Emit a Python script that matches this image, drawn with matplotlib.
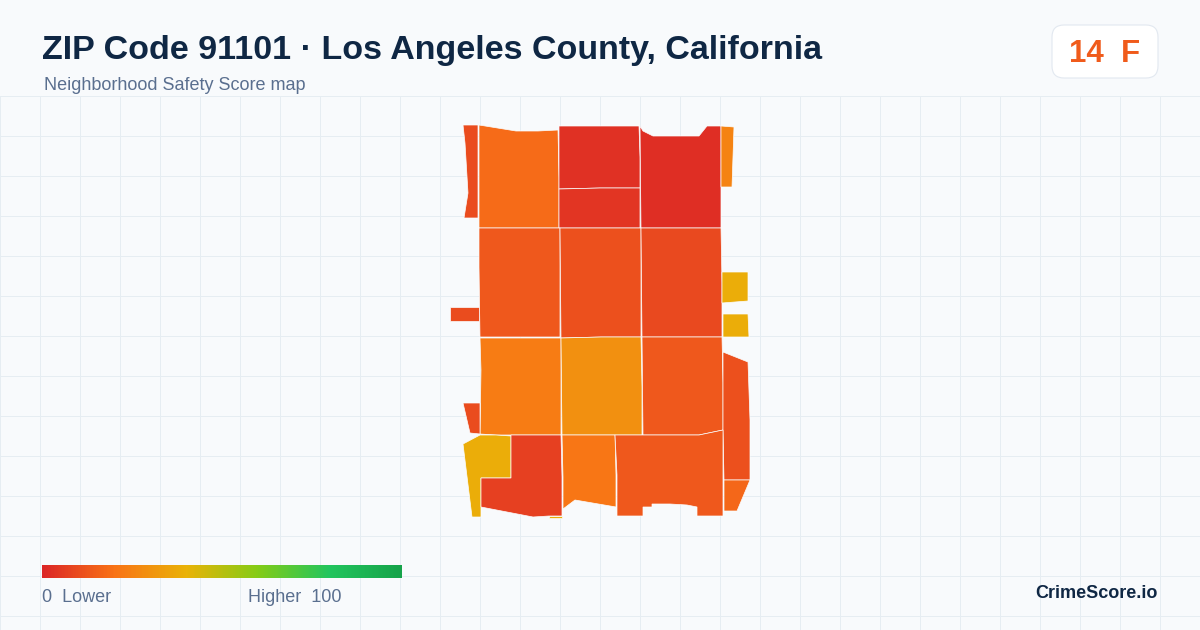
import numpy as np
import matplotlib
matplotlib.use('Agg')
import matplotlib.pyplot as plt
from matplotlib.colors import LinearSegmentedColormap
from matplotlib.patches import FancyBboxPatch, Polygon

plt.rcParams['font.family'] = ['Liberation Sans', 'DejaVu Sans']

# score scale
scale_stops = [0, 0.2, 0.4, 0.6, 0.8, 1]
scale_colors = ['#dc2626', '#f97316', '#eab308', '#84cc16', '#22c55e', '#16a34a']

grade_score = 14
grade_letter = 'F'

# tract outlines (x, y in picture pixels)
left_strip = [(463, 125), (478, 125), (478, 218), (464, 218), (468, 193), (465, 143)]
top_left = [(479, 125), (516, 131), (538, 131), (558, 130), (559, 178), (559, 228), (479, 228)]
top_mid = [(559, 126), (603, 126), (639, 126), (640, 157), (640, 188), (600, 188), (559, 189)]
upper_mid = [(559, 189), (600, 188), (640, 188), (640, 228), (559, 228)]
top_right = [(640, 126), (643, 131), (653, 136), (699, 136), (707, 126), (721, 126), (721, 228), (641, 228)]
right_strip = [(721, 126), (734, 127), (732, 187), (721, 187)]
row2_left = [(479, 228), (560, 228), (560, 283), (560, 337), (480, 337), (479, 267)]
row2_mid = [(560, 228), (641, 228), (641, 283), (641, 337), (601, 337), (561, 338)]
row2_right = [(641, 228), (721, 228), (722, 283), (722, 337), (642, 337)]
patch_a = [(722, 272), (748, 272), (748, 301), (722, 303)]
patch_b = [(723, 314), (748, 314), (749, 337), (723, 337)]
left_small = [(450, 307), (479, 307), (479, 321), (450, 321)]
row3_left = [(480, 338), (561, 338), (561, 387), (561, 435), (522, 435), (496, 435), (480, 434), (481, 370)]
row3_mid = [(561, 338), (601, 337), (641, 337), (642, 387), (642, 435), (562, 435)]
row3_right = [(642, 337), (722, 337), (723, 383), (723, 430), (699, 435), (643, 435)]
right_side = [(723, 352), (748, 362), (750, 420), (750, 480), (724, 480), (723, 430), (723, 383)]
side_bottom = [(724, 480), (750, 480), (737, 511), (724, 511)]
left_lower = [(463, 403), (480, 403), (480, 434), (470, 433)]
yellow_l = [(463, 444), (480, 435), (496, 435), (511, 436), (511, 478), (481, 478), (481, 517), (472, 517)]
sliver = [(549, 516), (562, 516), (562, 518), (549, 518)]
bottom_red = [(511, 435), (561, 435), (562, 477), (562, 516), (549, 516), (533, 517), (481, 507), (481, 478), (511, 478)]
bottom_orange = [(562, 435), (615, 435), (616, 475), (616, 507), (575, 500), (563, 509), (563, 477)]
bottom_wide = [(615, 435), (699, 435), (723, 430), (723, 516), (697, 516), (697, 507), (687, 505), (670, 504),
               (652, 504), (652, 507), (643, 507), (643, 516), (617, 516), (617, 475)]

tracts = [left_strip, top_left, top_mid, upper_mid, top_right, right_strip, row2_left, row2_mid, row2_right,
          patch_a, patch_b, left_small, row3_left, row3_mid, row3_right, right_side, side_bottom, left_lower,
          yellow_l, sliver, bottom_red, bottom_orange, bottom_wide]
scores = [10, 18, 3, 4, 2, 25, 13, 11, 9,
          38, 38, 10, 23, 29, 13, 11, 17, 10,
          38, 38, 7, 21, 13]

cmap = LinearSegmentedColormap.from_list('safety', list(zip(scale_stops, scale_colors)))

fig = plt.figure(figsize=(12, 6.3), dpi=100, facecolor='#f8fafc')
ax = fig.add_axes([0, 0, 1, 1])
ax.set_xlim(0, 1200)
ax.set_ylim(630, 0)
ax.axis('off')

# background grid
for gx in range(0, 1200, 40):
    ax.plot([gx, gx], [96, 630], color='#e6edf2', lw=0.72, zorder=1)
for gy in range(96, 630, 40):
    ax.plot([0, 1200], [gy, gy], color='#e6edf2', lw=0.72, zorder=1)

for outline, score in zip(tracts, scores):
    ax.add_patch(Polygon(outline, closed=True, facecolor=cmap(score / 100), edgecolor='#fbfdfe', lw=0.5, zorder=2))

# title block
ax.text(42, 59, 'ZIP Code 91101 · Los Angeles County, California', fontsize=24.5, fontweight='bold',
        color='#0f2744', va='baseline', ha='left', zorder=4)
ax.text(44, 85, 'Neighborhood Safety Score map', fontsize=13, color='#5a6f8f', va='center', ha='left', zorder=4)

# grade card
ax.add_patch(FancyBboxPatch((1064, 37), 82, 29, boxstyle='round,pad=12', facecolor='white',
                            edgecolor='#e2e8f0', lw=0.8, zorder=3))
ax.text(1104.5, 62, f'{grade_score}  {grade_letter}', fontsize=22.5, fontweight='bold', color=cmap(grade_score / 100),
        va='baseline', ha='center', zorder=4)

# legend
gradient = np.linspace(0, 1, 360).reshape(1, -1)
ax.imshow(gradient, cmap=cmap, extent=(42, 402, 578, 565), aspect='auto', zorder=3)
ax.set_xlim(0, 1200)
ax.set_ylim(630, 0)
ax.text(42, 597, '0  Lower', fontsize=13, color='#5a6f8f', va='center', ha='left', zorder=4)
ax.text(342, 597, 'Higher  100', fontsize=13, color='#5a6f8f', va='center', ha='right', zorder=4)
ax.text(1158, 593, 'CrimeScore.io', fontsize=13, fontweight='bold', color='#0f2744', va='center', ha='right', zorder=4)

fig.savefig('out.png', dpi=100, facecolor=fig.get_facecolor())
